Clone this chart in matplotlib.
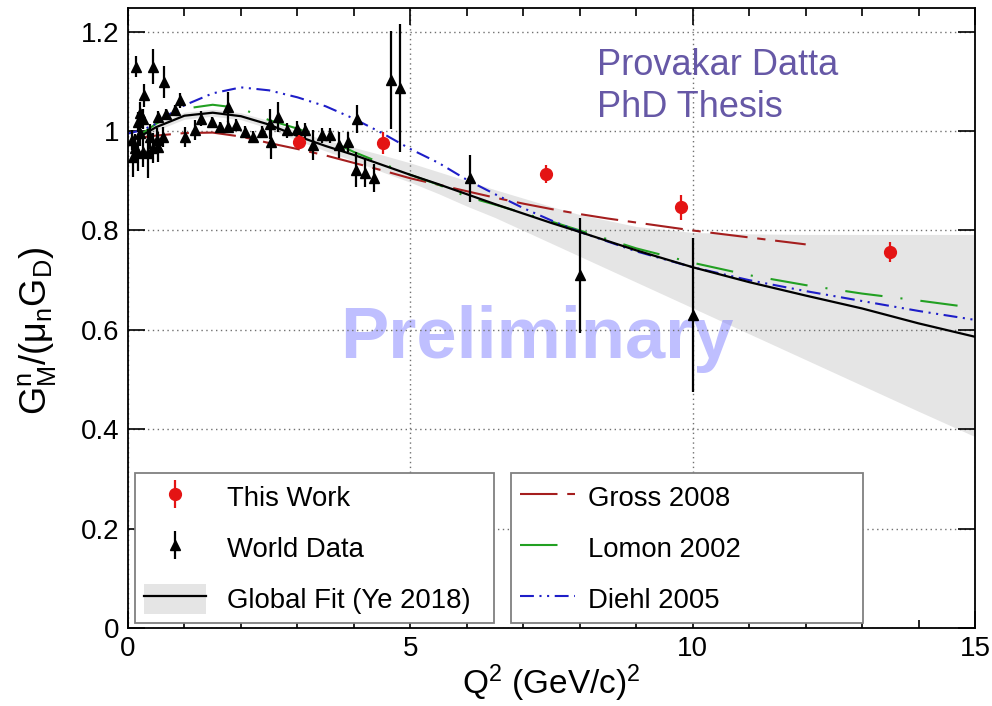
import matplotlib
matplotlib.use('Agg')
import matplotlib.pyplot as plt
from matplotlib.patches import Patch
from matplotlib.lines import Line2D
from matplotlib.ticker import FixedLocator, MultipleLocator, FuncFormatter

plt.rcParams['font.family'] = ['Liberation Sans', 'DejaVu Sans']
plt.rcParams['mathtext.fontset'] = 'custom'
plt.rcParams['mathtext.rm'] = 'Liberation Sans'
plt.rcParams['mathtext.it'] = 'Liberation Sans'
plt.rcParams['mathtext.default'] = 'regular'
plt.rcParams['lines.scale_dashes'] = False

# ---------------- data ----------------
this_q2 = [3.03, 4.51, 7.40, 9.80, 13.50]
this_g = [0.978, 0.976, 0.913, 0.847, 0.757]
this_err = [0.015, 0.022, 0.018, 0.025, 0.020]

world_q2 = [0.07, 0.09, 0.12, 0.15, 0.18, 0.18, 0.21, 0.21, 0.27, 0.27,
            0.29, 0.35, 0.39, 0.44, 0.45, 0.51, 0.53, 0.54, 0.62, 0.64,
            0.68, 0.83, 0.92, 1.01, 1.19, 1.30, 1.48, 1.63, 1.78, 1.78,
            1.92, 2.07, 2.22, 2.37, 2.51, 2.53, 2.66, 2.81, 2.99, 3.13,
            3.28, 3.43, 3.58, 3.73, 3.90, 4.05, 4.03, 4.19, 4.36, 4.66,
            4.81, 6.05, 8.00, 10.00]
world_g = [0.982, 0.948, 0.965, 1.130, 0.955, 1.019, 1.036, 0.996, 0.958, 1.025,
           1.072, 0.955, 0.989, 0.966, 1.130, 0.982, 0.968, 1.029, 0.989, 1.099,
           1.035, 1.042, 1.062, 0.989, 1.002, 1.025, 1.019, 1.009, 1.049, 1.009,
           1.012, 0.999, 0.989, 0.999, 1.015, 0.978, 1.029, 1.002, 1.005, 1.002,
           0.972, 0.992, 0.992, 0.972, 0.978, 1.025, 0.922, 0.915, 0.905, 1.103,
           1.086, 0.905, 0.710, 0.630]
world_err = [0.020, 0.040, 0.030, 0.022, 0.035, 0.020, 0.023, 0.025, 0.030, 0.020,
             0.023, 0.050, 0.025, 0.030, 0.035, 0.025, 0.030, 0.012, 0.020, 0.032,
             0.010, 0.010, 0.015, 0.020, 0.020, 0.015, 0.010, 0.010, 0.030, 0.012,
             0.012, 0.012, 0.012, 0.012, 0.030, 0.035, 0.030, 0.015, 0.015, 0.015,
             0.030, 0.015, 0.015, 0.027, 0.020, 0.028, 0.035, 0.028, 0.028, 0.098,
             0.129, 0.047, 0.116, 0.155]

fit_q2 = [0, 0.5, 1, 1.5, 2, 2.5, 3, 3.5, 4, 4.5, 5, 5.5, 6, 6.5, 7, 7.5, 8,
          9, 10, 11, 12, 13, 14, 15]
fit_g = [0.975, 1.008, 1.031, 1.037, 1.030, 1.013, 0.990, 0.970, 0.952, 0.932,
         0.912, 0.893, 0.873, 0.853, 0.834, 0.815, 0.797, 0.760, 0.726, 0.696,
         0.669, 0.643, 0.613, 0.586]
fit_hi = [0.982, 1.015, 1.038, 1.044, 1.037, 1.021, 0.999, 0.982, 0.967, 0.952,
          0.936, 0.918, 0.900, 0.882, 0.865, 0.848, 0.832, 0.808, 0.796, 0.793,
          0.792, 0.792, 0.792, 0.792]
fit_lo = [0.968, 1.001, 1.024, 1.030, 1.023, 1.005, 0.981, 0.960, 0.940, 0.918,
          0.897, 0.874, 0.849, 0.826, 0.800, 0.774, 0.748, 0.696, 0.644, 0.592,
          0.540, 0.488, 0.436, 0.385]

gross_q2 = [0.1, 0.5, 1, 1.5, 2, 2.5, 3, 3.5, 4, 4.5, 5, 5.5, 6, 6.5, 7, 7.5,
            8, 8.5, 9, 9.5, 10, 10.5, 11, 11.5, 12]
gross_g = [0.985, 0.991, 0.996, 0.997, 0.989, 0.976, 0.964, 0.951, 0.936, 0.921,
           0.905, 0.892, 0.879, 0.866, 0.854, 0.843, 0.833, 0.824, 0.816, 0.808,
           0.800, 0.793, 0.786, 0.779, 0.772]

lomon_q2 = [0, 0.5, 1, 1.5, 2, 2.5, 3, 3.5, 4, 4.5, 5, 5.5, 6, 6.5, 7, 7.5, 8,
            9, 10, 11, 12, 13, 14, 15]
lomon_g = [0.975, 1.015, 1.045, 1.053, 1.046, 1.022, 1.005, 0.985, 0.958, 0.935,
           0.912, 0.892, 0.868, 0.852, 0.835, 0.818, 0.800, 0.764, 0.735, 0.710,
           0.690, 0.673, 0.659, 0.644]

diehl_q2 = [0, 0.25, 0.5, 0.75, 1, 1.5, 2, 2.5, 3, 3.5, 4, 4.5, 5, 5.5, 6, 6.5,
            7, 7.5, 8, 9, 10, 11, 12, 13, 14, 15]
diehl_g = [0.995, 1.002, 1.015, 1.035, 1.052, 1.076, 1.088, 1.082, 1.068, 1.050,
           1.025, 0.996, 0.964, 0.936, 0.902, 0.873, 0.845, 0.820, 0.797, 0.758,
           0.726, 0.700, 0.678, 0.658, 0.638, 0.620]

x_ticks = [0, 5, 10, 15]
y_ticks = [0, 0.2, 0.4, 0.6, 0.8, 1.0, 1.2]

# ---------------- figure ----------------
fig = plt.figure(figsize=(9.92, 7.06), dpi=100)
ax = fig.add_axes([0.129, 0.1105, 0.854, 0.878])

ax.set_xlim(0, 15)
ax.set_ylim(0, 1.2475)

red = '#e41414'
gross_c = '#a51e1e'
lomon_c = '#22a022'
diehl_c = '#1e1ec8'

band = ax.fill_between(fit_q2, fit_lo, fit_hi, color='#e5e5e5', lw=0, zorder=0.2)
ax.text(7.24, 0.543, 'Preliminary', fontsize=52, fontweight='bold',
        color='#8080ff', alpha=0.5, ha='center', va='baseline', zorder=0.4)

l_gross, = ax.plot(gross_q2, gross_g, color=gross_c, lw=1.5,
                   dashes=[27, 7, 6, 7], zorder=2)
l_lomon, = ax.plot(lomon_q2, lomon_g, color=lomon_c, lw=1.5,
                   dashes=[27, 13, 1.5, 13], zorder=2)
l_diehl, = ax.plot(diehl_q2, diehl_g, color=diehl_c, lw=1.5,
                   dashes=[10, 4, 1.5, 4, 1.5, 4], zorder=2)
l_fit, = ax.plot(fit_q2, fit_g, color='black', lw=1.6, zorder=2.2)

eb_world = ax.errorbar(world_q2, world_g, yerr=world_err, fmt='^', color='black',
                       ms=7.5, elinewidth=1.6, capsize=0, zorder=3)
eb_this = ax.errorbar(this_q2, this_g, yerr=this_err, fmt='o', color=red,
                      ms=8.5, elinewidth=1.6, capsize=0, zorder=4)

# axes styling
ax.xaxis.set_major_locator(FixedLocator(x_ticks))
ax.xaxis.set_minor_locator(MultipleLocator(1))
ax.yaxis.set_major_locator(FixedLocator(y_ticks))
ax.yaxis.set_major_formatter(FuncFormatter(lambda v, p: '%g' % round(v, 2)))
ax.xaxis.set_major_formatter(FuncFormatter(lambda v, p: '%g' % v))
ax.tick_params(axis='both', which='both', direction='in', top=True, right=True,
               labelsize=20, width=1.2)
ax.tick_params(axis='x', which='major', length=12, pad=6)
ax.tick_params(axis='x', which='minor', length=6)
ax.tick_params(axis='y', which='major', length=12, pad=6)
ax.grid(True, which='major', linestyle=(0, (1, 2.5)), color='#707070', lw=1.0)
ax.set_axisbelow(True)
for s in ax.spines.values():
    s.set_linewidth(1.3)
    s.set_color('black')

ax.set_xlabel('Q$^{2}$ (GeV/c)$^{2}$', fontsize=24)
ax.xaxis.set_label_coords(0.5, -0.055)
ax.set_ylabel('G$^{n}_{M}$/($\\mu_{n}$G$_{D}$)', fontsize=26)
ax.yaxis.set_label_coords(-0.083, 0.48)

ax.text(8.30, 1.112, 'Provakar Datta', fontsize=26, color='#6658a6',
        ha='left', va='baseline', zorder=5)
ax.text(8.30, 1.028, 'PhD Thesis', fontsize=26, color='#6658a6',
        ha='left', va='baseline', zorder=5)

# legends
fit_handle = (Patch(facecolor='#e5e5e5', edgecolor='none'),
              Line2D([], [], color='black', lw=1.6))
leg_kw = dict(loc='upper left', mode='expand', borderaxespad=0, fontsize=19.8,
              frameon=True, fancybox=False, edgecolor='#808080', framealpha=1,
              handleheight=1.32, labelspacing=0.745, borderpad=0.32)
leg1 = ax.legend([eb_this, eb_world, fit_handle],
                 ['This Work', 'World Data', 'Global Fit (Ye 2018)'],
                 bbox_to_anchor=(0.00826, 0.0129, 0.4239, 0.2371),
                 handlelength=2.25, handletextpad=0.77, **leg_kw)
leg1.get_frame().set_linewidth(1.3)
ax.add_artist(leg1)
leg2 = ax.legend([l_gross, l_lomon, l_diehl],
                 ['Gross 2008', 'Lomon 2002', 'Diehl 2005'],
                 bbox_to_anchor=(0.4522, 0.0129, 0.4156, 0.2371),
                 handlelength=2.0, handletextpad=0.48, **leg_kw)
leg2.get_frame().set_linewidth(1.3)

fig.savefig('out.png', dpi=100)
